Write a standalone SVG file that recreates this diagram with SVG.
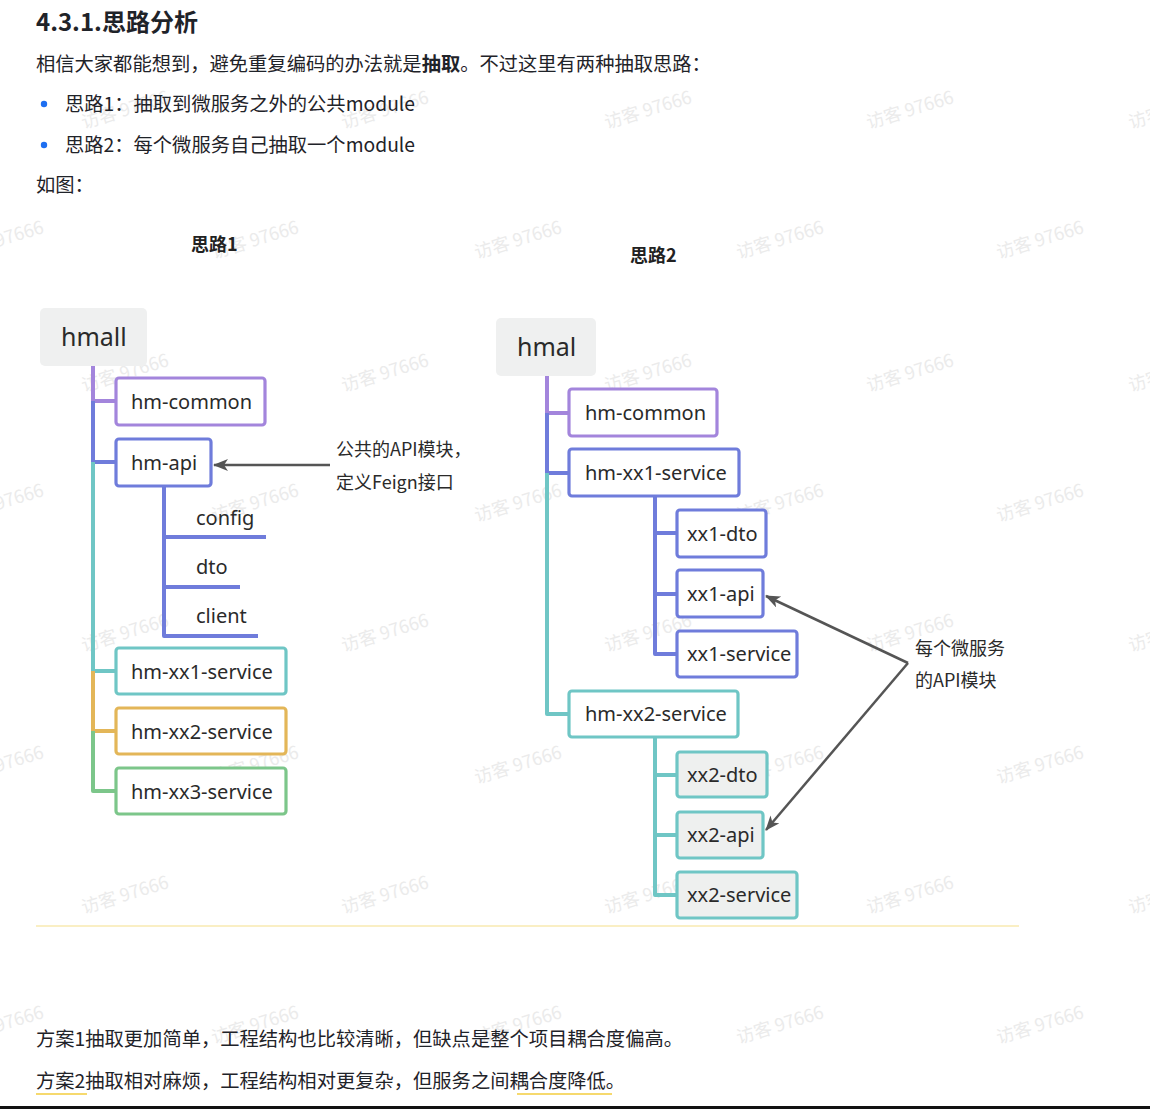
<svg xmlns="http://www.w3.org/2000/svg" width="1150" height="1109" viewBox="0 0 1150 1109">
<defs>
<style>
.t{font-family:"Noto Sans","Noto Sans CJK SC",sans-serif;fill:#1f2329}
.cjk{font-family:"Noto Sans CJK SC","Noto Sans",sans-serif;fill:#1f2329}
.body{font-size:19.3px}
.lbl{font-family:"Noto Sans","Noto Sans CJK SC",sans-serif;font-size:20px;fill:#2a2a2a}
.root{font-size:25px}
.note{font-family:"Noto Sans CJK SC","Noto Sans",sans-serif;font-size:18px;fill:#2a2a2a}
.wm{font-family:"Noto Sans CJK SC","Noto Sans",sans-serif;font-size:18px;fill:#ebebeb;text-anchor:middle}
.box{fill:#fff;stroke-width:3.2}
.gray{fill:#eef0ef}
.p{stroke:#a385dc}.b{stroke:#6f7cdb}.c{stroke:#6fc6c5}.o{stroke:#e3b658}.g{stroke:#7cc68a}
.e{fill:none;stroke-width:4;stroke-linejoin:round}
.arr{fill:none;stroke:#555;stroke-width:2.5;marker-end:url(#ah)}
</style>
<marker id="ah" markerUnits="userSpaceOnUse" markerWidth="16" markerHeight="14" refX="14" refY="6" orient="auto">
<path d="M0,0 L15,6 L0,12 L4,6 z" fill="#555"/>
</marker>
</defs>
<rect width="1150" height="1109" fill="#fff"/>

<g id="watermarks">
<g transform="rotate(-17 125 110)"><text class="wm" x="125" y="116">访客 97666</text></g>
<g transform="rotate(-17 385 110)"><text class="wm" x="385" y="116">访客 97666</text></g>
<g transform="rotate(-17 648 110)"><text class="wm" x="648" y="116">访客 97666</text></g>
<g transform="rotate(-17 910 110)"><text class="wm" x="910" y="116">访客 97666</text></g>
<g transform="rotate(-17 1172 110)"><text class="wm" x="1172" y="116">访客 97666</text></g>
<g transform="rotate(-17 0 240)"><text class="wm" x="0" y="246">访客 97666</text></g>
<g transform="rotate(-17 255 240)"><text class="wm" x="255" y="246">访客 97666</text></g>
<g transform="rotate(-17 518 240)"><text class="wm" x="518" y="246">访客 97666</text></g>
<g transform="rotate(-17 780 240)"><text class="wm" x="780" y="246">访客 97666</text></g>
<g transform="rotate(-17 1040 240)"><text class="wm" x="1040" y="246">访客 97666</text></g>
<g transform="rotate(-17 125 373)"><text class="wm" x="125" y="379">访客 97666</text></g>
<g transform="rotate(-17 385 373)"><text class="wm" x="385" y="379">访客 97666</text></g>
<g transform="rotate(-17 648 373)"><text class="wm" x="648" y="379">访客 97666</text></g>
<g transform="rotate(-17 910 373)"><text class="wm" x="910" y="379">访客 97666</text></g>
<g transform="rotate(-17 1172 373)"><text class="wm" x="1172" y="379">访客 97666</text></g>
<g transform="rotate(-17 0 503)"><text class="wm" x="0" y="509">访客 97666</text></g>
<g transform="rotate(-17 255 503)"><text class="wm" x="255" y="509">访客 97666</text></g>
<g transform="rotate(-17 518 503)"><text class="wm" x="518" y="509">访客 97666</text></g>
<g transform="rotate(-17 780 503)"><text class="wm" x="780" y="509">访客 97666</text></g>
<g transform="rotate(-17 1040 503)"><text class="wm" x="1040" y="509">访客 97666</text></g>
<g transform="rotate(-17 125 633)"><text class="wm" x="125" y="639">访客 97666</text></g>
<g transform="rotate(-17 385 633)"><text class="wm" x="385" y="639">访客 97666</text></g>
<g transform="rotate(-17 648 633)"><text class="wm" x="648" y="639">访客 97666</text></g>
<g transform="rotate(-17 910 633)"><text class="wm" x="910" y="639">访客 97666</text></g>
<g transform="rotate(-17 1172 633)"><text class="wm" x="1172" y="639">访客 97666</text></g>
<g transform="rotate(-17 0 765)"><text class="wm" x="0" y="771">访客 97666</text></g>
<g transform="rotate(-17 255 765)"><text class="wm" x="255" y="771">访客 97666</text></g>
<g transform="rotate(-17 518 765)"><text class="wm" x="518" y="771">访客 97666</text></g>
<g transform="rotate(-17 780 765)"><text class="wm" x="780" y="771">访客 97666</text></g>
<g transform="rotate(-17 1040 765)"><text class="wm" x="1040" y="771">访客 97666</text></g>
<g transform="rotate(-17 125 895)"><text class="wm" x="125" y="901">访客 97666</text></g>
<g transform="rotate(-17 385 895)"><text class="wm" x="385" y="901">访客 97666</text></g>
<g transform="rotate(-17 648 895)"><text class="wm" x="648" y="901">访客 97666</text></g>
<g transform="rotate(-17 910 895)"><text class="wm" x="910" y="901">访客 97666</text></g>
<g transform="rotate(-17 1172 895)"><text class="wm" x="1172" y="901">访客 97666</text></g>
<g transform="rotate(-17 0 1025)"><text class="wm" x="0" y="1031">访客 97666</text></g>
<g transform="rotate(-17 255 1025)"><text class="wm" x="255" y="1031">访客 97666</text></g>
<g transform="rotate(-17 518 1025)"><text class="wm" x="518" y="1031">访客 97666</text></g>
<g transform="rotate(-17 780 1025)"><text class="wm" x="780" y="1031">访客 97666</text></g>
<g transform="rotate(-17 1040 1025)"><text class="wm" x="1040" y="1031">访客 97666</text></g>
</g>

<g id="header">
<text class="cjk" x="36" y="31" style="font-size:24px;font-weight:bold">4.3.1.思路分析</text>
<text class="cjk body" x="36" y="71">相信大家都能想到，避免重复编码的办法就是<tspan font-weight="bold">抽取</tspan>。不过这里有两种抽取思路：</text>
<circle cx="44" cy="104" r="3.2" fill="#1e6ff1"/>
<text class="cjk body" x="65" y="111">思路1：抽取到微服务之外的公共module</text>
<circle cx="44" cy="145" r="3.2" fill="#1e6ff1"/>
<text class="cjk body" x="65" y="152">思路2：每个微服务自己抽取一个module</text>
<text class="cjk body" x="36" y="192">如图：</text>
</g>

<g id="titles">
<text class="cjk" x="191" y="251" style="font-size:18px;font-weight:bold;fill:#222">思路1</text>
<text class="cjk" x="630" y="262" style="font-size:18px;font-weight:bold;fill:#222">思路2</text>
</g>

<g id="connectors">
<path class="e p" d="M93 366 V401 H116"/>
<path class="e b" d="M93 401 V462 H116"/>
<path class="e c" d="M93 462 V671 H116"/>
<path class="e o" d="M93 671 V731 H116"/>
<path class="e g" d="M93 731 V791 H116"/>
<path class="e b" d="M164 486 V636 H258"/>
<path class="e b" d="M164 537 H266"/>
<path class="e b" d="M164 587 H240"/>
<path class="e p" d="M547 376 V413 H569"/>
<path class="e b" d="M547 413 V473 H569"/>
<path class="e c" d="M547 473 V714 H569"/>
<path class="e b" d="M655 496 V654 H677"/>
<path class="e b" d="M655 533 H677"/>
<path class="e b" d="M655 594 H677"/>
<path class="e c" d="M655 737 V895 H677"/>
<path class="e c" d="M655 775 H677"/>
<path class="e c" d="M655 835 H677"/>
<path class="arr" d="M330 465 H214"/>
<path class="arr" d="M908 663 L766 596"/>
<path class="arr" d="M908 663 L766 830"/>
</g>

<g id="n-hmall"><rect x="40" y="308" width="107" height="58" rx="5" fill="#eff0f0"/><text class="lbl root" x="61" y="346">hmall</text></g>
<g id="n-l-common"><rect class="box p" x="116" y="378" width="149" height="47" rx="3"/><text class="lbl" x="131" y="409">hm-common</text></g>
<g id="n-l-api"><rect class="box b" x="116" y="439" width="95" height="47" rx="3"/><text class="lbl" x="131" y="470">hm-api</text></g>
<g id="n-l-config"><text class="lbl" x="196" y="525">config</text></g>
<g id="n-l-dto"><text class="lbl" x="196" y="574">dto</text></g>
<g id="n-l-client"><text class="lbl" x="196" y="623">client</text></g>
<g id="n-l-xx1"><rect class="box c" x="116" y="648" width="170" height="46" rx="3"/><text class="lbl" x="131" y="679">hm-xx1-service</text></g>
<g id="n-l-xx2"><rect class="box o" x="116" y="708" width="170" height="46" rx="3"/><text class="lbl" x="131" y="739">hm-xx2-service</text></g>
<g id="n-l-xx3"><rect class="box g" x="116" y="768" width="170" height="46" rx="3"/><text class="lbl" x="131" y="799">hm-xx3-service</text></g>
<g id="n-l-note"><text class="note" x="336" y="456">公共的API模块，</text><text class="note" x="336" y="489">定义Feign接口</text></g>

<g id="n-hmal"><rect x="496" y="318" width="100" height="58" rx="5" fill="#eff0f0"/><text class="lbl root" x="517" y="356">hmal</text></g>
<g id="n-r-common"><rect class="box p" x="569" y="389" width="148" height="47" rx="3"/><text class="lbl" x="585" y="420">hm-common</text></g>
<g id="n-r-xx1"><rect class="box b" x="569" y="449" width="170" height="47" rx="3"/><text class="lbl" x="585" y="480">hm-xx1-service</text></g>
<g id="n-xx1-dto"><rect class="box b" x="677" y="510" width="89" height="47" rx="3"/><text class="lbl" x="687" y="541">xx1-dto</text></g>
<g id="n-xx1-api"><rect class="box b" x="677" y="570" width="86" height="47" rx="3"/><text class="lbl" x="687" y="601">xx1-api</text></g>
<g id="n-xx1-service"><rect class="box b" x="677" y="631" width="120" height="46" rx="3"/><text class="lbl" x="687" y="661">xx1-service</text></g>
<g id="n-r-xx2"><rect class="box c" x="569" y="691" width="169" height="46" rx="3"/><text class="lbl" x="585" y="721">hm-xx2-service</text></g>
<g id="n-xx2-dto"><rect class="box c gray" x="677" y="752" width="90" height="45" rx="3"/><text class="lbl" x="687" y="782">xx2-dto</text></g>
<g id="n-xx2-api"><rect class="box c gray" x="677" y="812" width="86" height="46" rx="3"/><text class="lbl" x="687" y="842">xx2-api</text></g>
<g id="n-xx2-service"><rect class="box c gray" x="677" y="872" width="120" height="46" rx="3"/><text class="lbl" x="687" y="902">xx2-service</text></g>
<g id="n-r-note"><text class="note" x="915" y="655">每个微服务</text><text class="note" x="915" y="687">的API模块</text></g>

<rect x="36" y="925" width="983" height="2" fill="#faefc4"/>

<g id="footer">
<text class="cjk body" x="36" y="1046">方案1抽取更加简单，工程结构也比较清晰，但缺点是整个项目耦合度偏高。</text>
<text class="cjk body" x="36" y="1088">方案2抽取相对麻烦，工程结构相对更复杂，但服务之间耦合度降低。</text>
<rect x="36" y="1093" width="51" height="2" fill="#f6d96e"/>
<rect x="517" y="1093" width="95" height="2" fill="#f6d96e"/>
</g>
<rect x="0" y="1106" width="1150" height="3" fill="#111"/>
</svg>
